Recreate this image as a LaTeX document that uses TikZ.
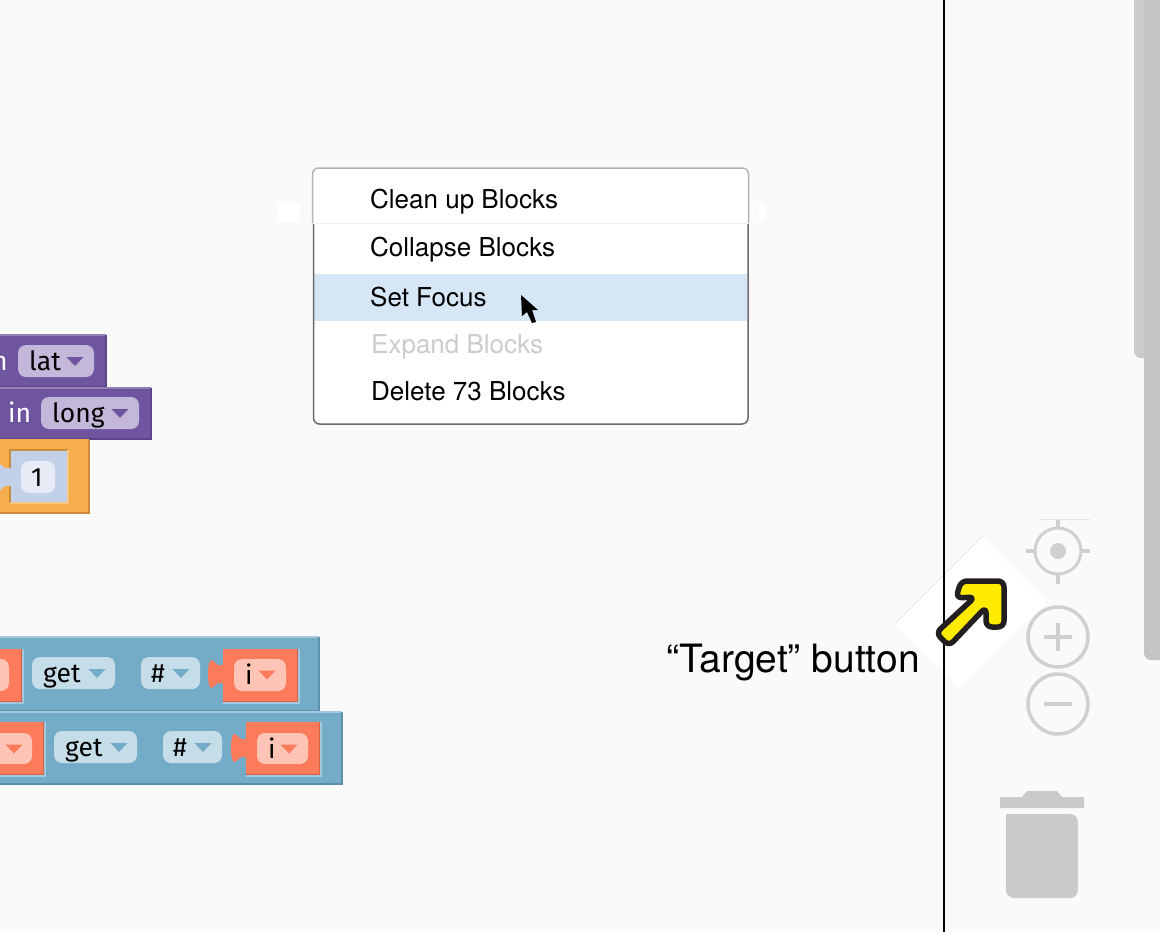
\documentclass[tikz,border=0pt]{standalone}
\usepackage{fontspec}
\setmainfont{TeX Gyre Heros}
\newfontfamily\blockfont{Fira Sans}
\usepackage{tikz}
\usetikzlibrary{positioning, calc}
\definecolor{pagebg}{HTML}{FAFAFA}
\definecolor{menuhi}{HTML}{D5E6F6}
\definecolor{menuedge}{HTML}{6A6A6A}
\definecolor{menutop}{HTML}{B4B4B4}
\definecolor{mutedtext}{HTML}{CCCCCC}
\definecolor{iconcol}{HTML}{D0D0D0}
\definecolor{trashcol}{HTML}{CACACA}
\definecolor{barcol}{HTML}{C4C4C6}
\definecolor{barlight}{HTML}{CBCBCB}
\definecolor{purpleblk}{HTML}{6F55A0}
\definecolor{purpletop}{HTML}{9380B8}
\definecolor{purpleedge}{HTML}{5C4688}
\definecolor{purplechip}{HTML}{C3B8DA}
\definecolor{orangeblk}{HTML}{F5AD4E}
\definecolor{orangeedge}{HTML}{C98C3C}
\definecolor{socketblue}{HTML}{C2D1E8}
\definecolor{numchip}{HTML}{E6EBF6}
\definecolor{tealblk}{HTML}{74ACC8}
\definecolor{tealtop}{HTML}{A3C9DC}
\definecolor{tealedge}{HTML}{5C8FA8}
\definecolor{tealchip}{HTML}{C5DDE9}
\definecolor{redblk}{HTML}{FB7B5A}
\definecolor{redchip}{HTML}{FFC4B5}
\definecolor{rededge}{HTML}{CF6248}
\definecolor{arrowyellow}{HTML}{FFEB00}
\definecolor{arrowblack}{HTML}{231F20}
\tikzset{
  menutext/.style={anchor=base west, inner sep=0pt, font=\fontsize{26}{30}\selectfont},
  blocktext/.style={anchor=base west, inner sep=0pt, font=\blockfont\fontsize{26.5}{30}\selectfont},
  chip/.style={rounded corners=8pt},
  icon/.style={draw=iconcol, line width=3.5pt},
  blockedge/.style={line width=1.5pt}
}
% x y x y fill top edge
\newcommand{\blockrect}[7]{
  \fill[#5] (#1,#2) rectangle (#3,#4);
  \draw[blockedge, #6] (#1,#2) -- (#3,#2);
  \draw[blockedge, #7] (#1,#4) -- (#3,#4) -- (#3,#2);
}
% tip of the dropdown, pointing down
\newcommand{\dropdown}[3]{
  \fill[#3] (#1-8.5,#2-4.5) -- (#1+8.5,#2-4.5) -- (#1,#2+4.5) -- cycle;
}
% puzzle tab, right end at x, middle at y
\newcommand{\puzzletab}[3]{
  \fill[#3] (#1,#2-9) -- (#1-6,#2-9) .. controls (#1-9,#2-10) and (#1-10,#2-14) .. (#1-13,#2-14)
    .. controls (#1-17,#2-13) and (#1-17,#2+13) .. (#1-13,#2+14)
    .. controls (#1-10,#2+14) and (#1-9,#2+10) .. (#1-6,#2+9) -- (#1,#2+9) -- cycle;
}
% red socket with its thin edges
\newcommand{\redsocket}[4]{
  \fill[redblk] (#1,#2) rectangle (#3,#4);
  \draw[rededge, line width=1pt] (#1,#4-.5) -- (#3-.5,#4-.5) -- (#3-.5,#2);
  \draw[tealtop, line width=1.5pt] (#1,#4+1) -- (#3+1,#4+1) -- (#3+1,#2);
}
\begin{document}
\begin{tikzpicture}[x=1pt, y=-1pt]
\useasboundingbox (0,0) rectangle (1160,932);
\fill[pagebg] (0,0) rectangle (1160,932);

% context menu
\fill[white] (277,203) rectangle (300,222);
\fill[white] (759,203) rectangle (765,222);
\fill[white, rounded corners=6pt] (313,168) rectangle (748,424);
\fill[menuhi] (314,274) rectangle (747,321);
\draw[menutop, line width=1.5pt, rounded corners=6pt] (312.5,223) -- (312.5,168) -- (748.5,168) -- (748.5,223);
\draw[menuedge, line width=1.5pt, rounded corners=6pt] (313.5,223) -- (313.5,424) -- (748,424) -- (748,223);
\draw[menuhi!50] (313,223.5) -- (749,223.5);
\node (cleanup) [menutext] at (370,208) {Clean up Blocks};
\node (collapse) [menutext] at (370,256) {Collapse Blocks};
\node (setfocus) [menutext] at (370,306) {Set Focus};
\node (expand) [menutext, text=mutedtext] at (371,353) {Expand Blocks};
\node (delete) [menutext] at (371,400) {Delete 73 Blocks};
\fill[black] (521,295) -- (522,316) -- (527,312) -- (532,323) -- (536,322) -- (532,310) -- (538,310) -- cycle;

% purple blocks
\blockrect{0}{335}{106}{387}{purpleblk}{purpletop}{purpleedge}
\blockrect{0}{388}{151}{439}{purpleblk}{purpletop}{purpleedge}
\node (nletter) [blocktext, text=white] at (-8,370) {n};
\fill[purplechip, chip] (18,345) rectangle (94,377);
\node (lat) [blocktext] at (29,370) {lat};
\dropdown{75}{361.5}{purpleblk}
\node (inword) [blocktext, text=white] at (8,422) {in};
\fill[purplechip, chip] (41,397) rectangle (139,429);
\node (long) [blocktext] at (52,422) {long};
\dropdown{120}{413.5}{purpleblk}

% orange block
\blockrect{0}{440}{89}{513}{orangeblk}{orangeblk}{orangeedge}
\fill[socketblue] (10,450) rectangle (68,503);
\draw[orangeedge, line width=1.5pt] (10,503) -- (10,450) -- (68,450);
\draw[orangeblk!70!white, line width=1.5pt] (10,503) -- (68,503) -- (68,450);
\puzzletab{11}{477}{socketblue}
\fill[numchip, chip] (21,461) rectangle (55,493);
\node (one) [blocktext] at (31,486) {1};

% teal blocks
\blockrect{0}{637}{319}{711}{tealblk}{tealtop}{tealedge}
\blockrect{0}{712}{342}{784}{tealblk}{tealtop}{tealedge}

\redsocket{0}{649}{22}{702}
\fill[redchip, chip] (-20,659) rectangle (9,691);
\fill[tealchip, chip] (32,657) rectangle (115,689);
\node (getone) [blocktext] at (43,682) {get};
\dropdown{97}{673.5}{tealblk}
\fill[tealchip, chip] (141,657) rectangle (200,689);
\node (hashone) [blocktext] at (151,682) {\#};
\dropdown{181}{673.5}{tealblk}
\puzzletab{224}{674}{redblk}
\redsocket{223}{649}{298}{702}
\fill[redchip, chip] (234,659) rectangle (286,691);
\node (ione) [blocktext] at (245,684) {i};
\dropdown{267}{675}{redblk}

\redsocket{0}{722}{44}{775}
\fill[redchip, chip] (-20,733) rectangle (32,764);
\dropdown{14}{749}{redblk}
\fill[tealchip, chip] (54,731) rectangle (137,763);
\node (gettwo) [blocktext] at (65,756) {get};
\dropdown{119}{747.5}{tealblk}
\fill[tealchip, chip] (163,731) rectangle (222,763);
\node (hashtwo) [blocktext] at (173,756) {\#};
\dropdown{203}{747.5}{tealblk}
\puzzletab{247}{748}{redblk}
\redsocket{246}{722}{320}{775}
\fill[redchip, chip] (257,733) rectangle (308,764);
\node (itwo) [blocktext] at (268,758) {i};
\dropdown{289}{749}{redblk}

% callout
\node (targetlabel) [anchor=base west, inner sep=0pt, font=\fontsize{39}{44}\selectfont] at (666,672) {“Target” button};
\fill[white] (982,537) -- (1047,602) -- (959,688) -- (895,624) -- cycle;
\draw[black!12, line width=.5pt] (895,624) -- (982,537);
\draw[black, line width=2.5pt] (944,0) -- (944,932);

% scrollbars
\fill[barlight, rounded corners=7pt] (1134,-20) rectangle (1170,358);
\fill[barcol, rounded corners=7pt] (1144,-20) rectangle (1170,660);

% workspace controls
\begin{scope}[icon]
\draw[line width=3pt] (1058,551) circle (23pt);
\draw (1058,519) -- (1058,528);
\draw (1058,575) -- (1058,584);
\draw (1026,551) -- (1034,551);
\draw (1082,551) -- (1090,551);
\draw (1058,637) circle (30pt);
\draw (1044,637) -- (1072,637);
\draw (1058,623) -- (1058,651);
\draw (1058,704) circle (30pt);
\draw (1044,704) -- (1072,704);
\end{scope}
\draw[black!10, line width=.5pt] (1040,519) -- (1090,519);
\fill[iconcol] (1058,551) circle (8pt);

% trash
\fill[trashcol] (1000,797) -- (1022,797) -- (1027,791) -- (1057,791) -- (1062,797) -- (1084,797) -- (1084,808) -- (1000,808) -- cycle;
\fill[trashcol, rounded corners=8pt] (1006,814) -- (1006,898) -- (1078,898) -- (1078,814) [sharp corners] -- cycle;

% yellow arrow
\draw[arrowblack, fill=arrowyellow, line width=5.5pt, rounded corners=6pt, line join=round]
  (961,581) -- (1004,581) -- (1004,627) -- (986,627) -- (986,607) -- (949,646) -- (936,633) -- (975,597) -- (956,598) -- cycle;
\end{tikzpicture}
\end{document}
